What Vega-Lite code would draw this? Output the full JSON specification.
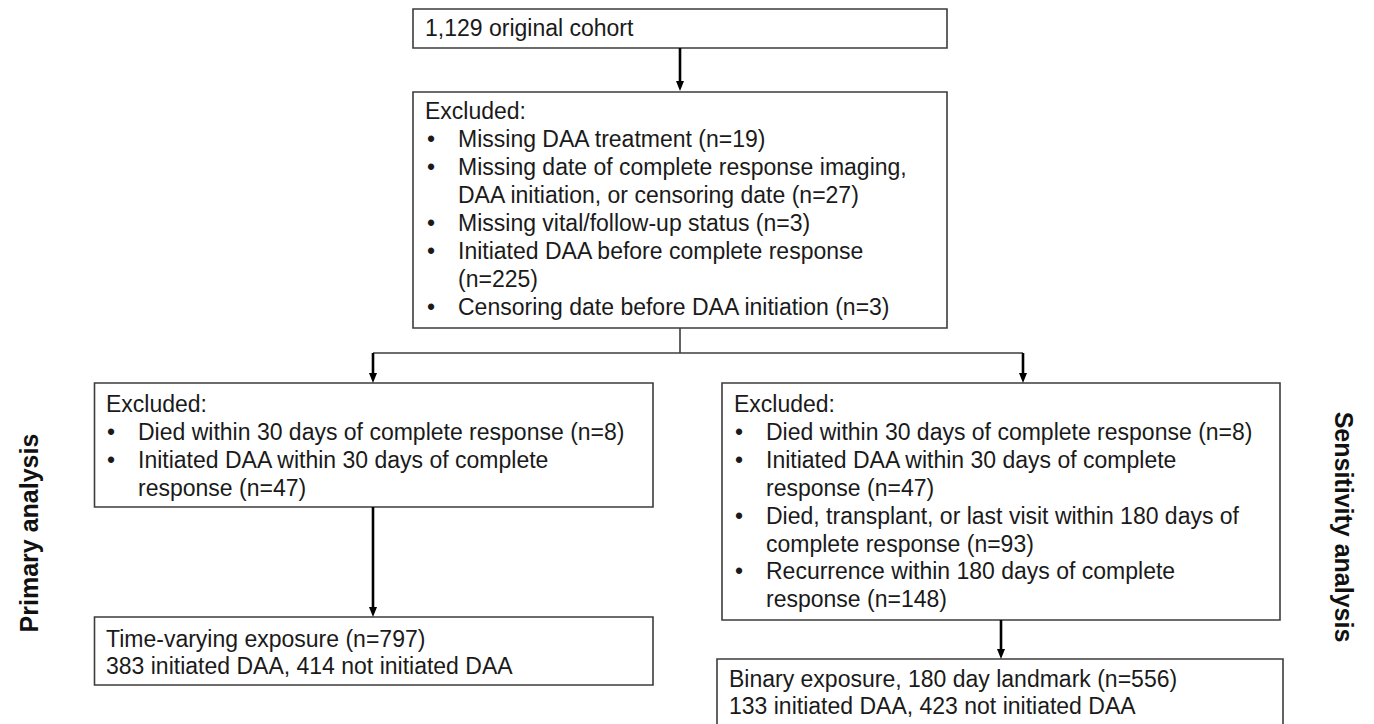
{
  "$schema": "https://vega.github.io/schema/vega-lite/v6.json",
  "width": 1374,
  "height": 724,
  "autosize": {"type": "fit", "contains": "padding"},
  "padding": 0,
  "background": "white",
  "config": {"view": {"stroke": null}},
  "datasets": {
    "boxes": [
      {"x": 413, "x2": 947, "y": 9, "y2": 48},
      {"x": 413, "x2": 947, "y": 92, "y2": 328},
      {"x": 94.5, "x2": 653, "y": 383, "y2": 507},
      {"x": 94.5, "x2": 653, "y": 617, "y2": 685},
      {"x": 722, "x2": 1280, "y": 383, "y2": 620},
      {"x": 717, "x2": 1283, "y": 659, "y2": 760}
    ],
    "connectors": [
      {"x": 680, "x2": 680, "y": 328, "y2": 353},
      {"x": 373, "x2": 1023, "y": 353, "y2": 353}
    ],
    "shafts": [
      {"x": 680, "y": 48, "y2": 86},
      {"x": 373, "y": 353, "y2": 378},
      {"x": 1023, "y": 353, "y2": 378},
      {"x": 373, "y": 507, "y2": 612},
      {"x": 1001, "y": 620, "y2": 654}
    ],
    "heads": [
      {"x": 680, "y": 86},
      {"x": 373, "y": 378},
      {"x": 1023, "y": 378},
      {"x": 373, "y": 612},
      {"x": 1001, "y": 654}
    ],
    "texts": [
      {"x": 425, "y": 28.5, "t": "1,129 original cohort"},
      {"x": 425, "y": 112, "t": "Excluded:"},
      {"x": 458, "y": 140, "t": "Missing DAA treatment (n=19)"},
      {"x": 458, "y": 168, "t": "Missing date of complete response imaging,"},
      {"x": 458, "y": 196, "t": "DAA initiation, or censoring date (n=27)"},
      {"x": 458, "y": 224, "t": "Missing vital/follow-up status (n=3)"},
      {"x": 458, "y": 252, "t": "Initiated DAA before complete response"},
      {"x": 458, "y": 280, "t": "(n=225)"},
      {"x": 458, "y": 308, "t": "Censoring date before DAA initiation (n=3)"},
      {"x": 106, "y": 405, "t": "Excluded:"},
      {"x": 138, "y": 433, "t": "Died within 30 days of complete response (n=8)"},
      {"x": 138, "y": 461, "t": "Initiated DAA within 30 days of complete"},
      {"x": 138, "y": 489, "t": "response (n=47)"},
      {"x": 106, "y": 640, "t": "Time-varying exposure (n=797)"},
      {"x": 106, "y": 667, "t": "383 initiated DAA, 414 not initiated DAA"},
      {"x": 734, "y": 405, "t": "Excluded:"},
      {"x": 766, "y": 433, "t": "Died within 30 days of complete response (n=8)"},
      {"x": 766, "y": 461, "t": "Initiated DAA within 30 days of complete"},
      {"x": 766, "y": 489, "t": "response (n=47)"},
      {"x": 766, "y": 517, "t": "Died, transplant, or last visit within 180 days of"},
      {"x": 766, "y": 544.5, "t": "complete response (n=93)"},
      {"x": 766, "y": 572, "t": "Recurrence within 180 days of complete"},
      {"x": 766, "y": 600, "t": "response (n=148)"},
      {"x": 729, "y": 680, "t": "Binary exposure, 180 day landmark (n=556)"},
      {"x": 729, "y": 707, "t": "133 initiated DAA, 423 not initiated DAA"}
    ],
    "bullets": [
      {"x": 431, "y": 140}, {"x": 431, "y": 168}, {"x": 431, "y": 224}, {"x": 431, "y": 252}, {"x": 431, "y": 308},
      {"x": 111, "y": 433}, {"x": 111, "y": 461},
      {"x": 739, "y": 433}, {"x": 739, "y": 461}, {"x": 739, "y": 517}, {"x": 739, "y": 572}
    ],
    "labelsL": [{"x": 30, "y": 533, "t": "Primary analysis"}],
    "labelsR": [{"x": 1343, "y": 527, "t": "Sensitivity analysis"}]
  },
  "layer": [
    {
      "data": {"name": "boxes"},
      "mark": {"type": "rect", "fill": "white", "stroke": "#3c3c3c", "strokeWidth": 1.6, "clip": true},
      "encoding": {
        "x": {"field": "x", "type": "quantitative", "scale": {"domain": [0, 1374], "nice": false, "zero": false}, "axis": null},
        "x2": {"field": "x2"},
        "y": {"field": "y", "type": "quantitative", "scale": {"domain": [0, 724], "nice": false, "zero": false, "reverse": true}, "axis": null},
        "y2": {"field": "y2"}
      }
    },
    {
      "data": {"name": "connectors"},
      "mark": {"type": "rule", "stroke": "#3c3c3c", "strokeWidth": 1.6},
      "encoding": {
        "x": {"field": "x", "type": "quantitative", "scale": {"domain": [0, 1374], "nice": false, "zero": false}, "axis": null},
        "x2": {"field": "x2"},
        "y": {"field": "y", "type": "quantitative", "scale": {"domain": [0, 724], "nice": false, "zero": false, "reverse": true}, "axis": null},
        "y2": {"field": "y2"}
      }
    },
    {
      "data": {"name": "shafts"},
      "mark": {"type": "rule", "stroke": "#000000", "strokeWidth": 2.6},
      "encoding": {
        "x": {"field": "x", "type": "quantitative", "scale": {"domain": [0, 1374], "nice": false, "zero": false}, "axis": null},
        "y": {"field": "y", "type": "quantitative", "scale": {"domain": [0, 724], "nice": false, "zero": false, "reverse": true}, "axis": null},
        "y2": {"field": "y2"}
      }
    },
    {
      "data": {"name": "heads"},
      "mark": {"type": "point", "shape": "M-0.8,-1L0.8,-1L0,1Z", "filled": true, "color": "#000000", "opacity": 1, "size": 100},
      "encoding": {
        "x": {"field": "x", "type": "quantitative", "scale": {"domain": [0, 1374], "nice": false, "zero": false}, "axis": null},
        "y": {"field": "y", "type": "quantitative", "scale": {"domain": [0, 724], "nice": false, "zero": false, "reverse": true}, "axis": null}
      }
    },
    {
      "data": {"name": "texts"},
      "mark": {"type": "text", "align": "left", "baseline": "middle", "font": "Liberation Sans", "fontSize": 23, "color": "#1a1a1a"},
      "encoding": {
        "x": {"field": "x", "type": "quantitative", "scale": {"domain": [0, 1374], "nice": false, "zero": false}, "axis": null},
        "y": {"field": "y", "type": "quantitative", "scale": {"domain": [0, 724], "nice": false, "zero": false, "reverse": true}, "axis": null},
        "text": {"field": "t"}
      }
    },
    {
      "data": {"name": "bullets"},
      "mark": {"type": "text", "align": "center", "baseline": "middle", "font": "Liberation Sans", "fontSize": 23, "color": "#1a1a1a", "text": "•"},
      "encoding": {
        "x": {"field": "x", "type": "quantitative", "scale": {"domain": [0, 1374], "nice": false, "zero": false}, "axis": null},
        "y": {"field": "y", "type": "quantitative", "scale": {"domain": [0, 724], "nice": false, "zero": false, "reverse": true}, "axis": null}
      }
    },
    {
      "data": {"name": "labelsL"},
      "mark": {"type": "text", "align": "center", "baseline": "middle", "font": "Liberation Sans", "fontSize": 25, "fontWeight": "bold", "angle": 270, "color": "#111111"},
      "encoding": {
        "x": {"field": "x", "type": "quantitative", "scale": {"domain": [0, 1374], "nice": false, "zero": false}, "axis": null},
        "y": {"field": "y", "type": "quantitative", "scale": {"domain": [0, 724], "nice": false, "zero": false, "reverse": true}, "axis": null},
        "text": {"field": "t"}
      }
    },
    {
      "data": {"name": "labelsR"},
      "mark": {"type": "text", "align": "center", "baseline": "middle", "font": "Liberation Sans", "fontSize": 25, "fontWeight": "bold", "angle": 90, "color": "#111111"},
      "encoding": {
        "x": {"field": "x", "type": "quantitative", "scale": {"domain": [0, 1374], "nice": false, "zero": false}, "axis": null},
        "y": {"field": "y", "type": "quantitative", "scale": {"domain": [0, 724], "nice": false, "zero": false, "reverse": true}, "axis": null},
        "text": {"field": "t"}
      }
    }
  ]
}
